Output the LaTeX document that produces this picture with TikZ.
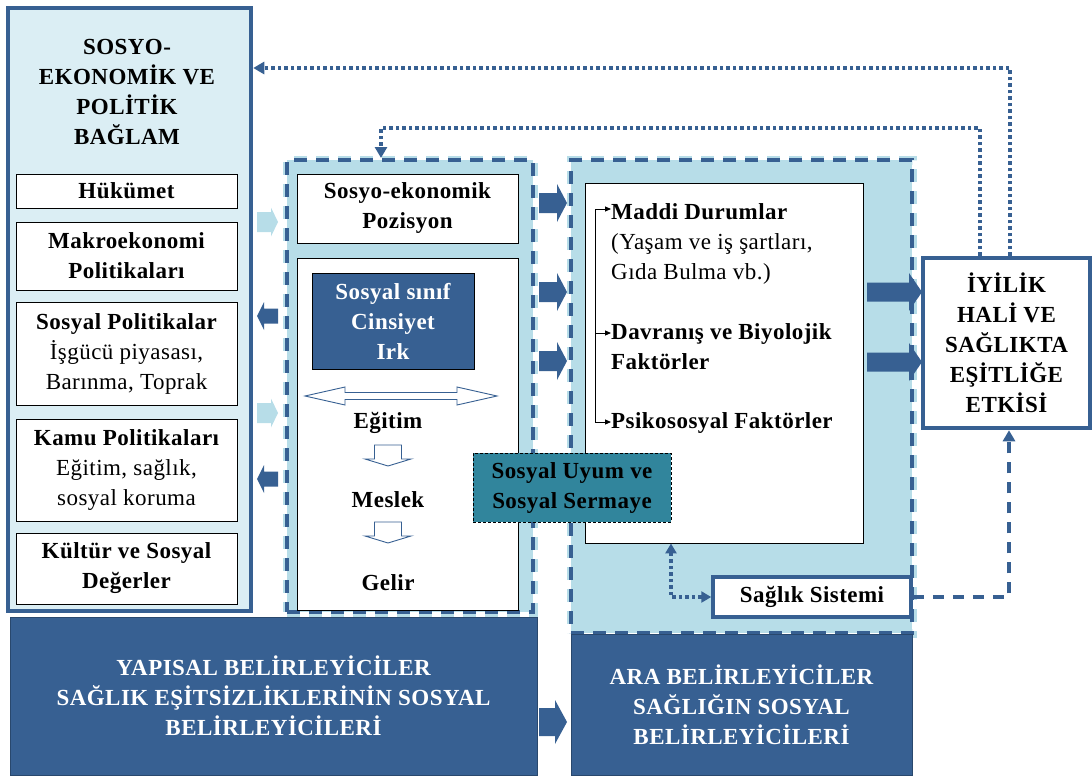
\documentclass[tikz,border=0pt]{standalone}
\usepackage{fontspec}
\setmainfont{Liberation Serif}[LetterSpace=2]
\usetikzlibrary{arrows.meta}
\definecolor{dkblue}{RGB}{55,96,146}
\definecolor{paleblue}{RGB}{219,238,244}
\definecolor{panelblue}{RGB}{183,221,232}
\definecolor{uyumteal}{RGB}{49,133,156}
\newcommand{\bodysize}{\fontsize{23}{30}\selectfont}
% horizontal block arrow: style, tail x, head-base x, tip x, y, shaft half-width, head half-width
\newcommand{\hblock}[7]{\fill[#1] (#2,#5-#6) -- (#3,#5-#6) -- (#3,#5-#7) -- (#4,#5) -- (#3,#5+#7) -- (#3,#5+#6) -- (#2,#5+#6) -- cycle;}
% hollow downward arrow: centre x, top y, head-base y, tip y
\newcommand{\vhollow}[4]{\draw[hollow] (#1-13.5,#2) -- (#1+13.5,#2) -- (#1+13.5,#3) -- (#1+23,#3) -- (#1,#4) -- (#1-23,#3) -- (#1-13.5,#3) -- cycle;}
\begin{document}
\begin{tikzpicture}[x=1pt,y=-1pt,
  txt/.style={font=\bodysize, align=center, inner sep=0},
  boldtxt/.style={font=\bodysize\bfseries},
  wbox/.style={draw=black, line width=0.9, fill=white, font=\bodysize, align=center, inner sep=2},
  panel/.style={preaction={draw=panelblue, fill=panelblue, line width=9}, draw=dkblue, line width=4, dash pattern=on 13pt off 9pt},
  darkbox/.style={fill=dkblue, draw=dkblue!75!black, line width=1, text=white, font=\bodysize\bfseries, align=center},
  fbline/.style={draw=dkblue, line width=3.5, dash pattern=on 3.5pt off 3pt},
  dashline/.style={draw=dkblue, line width=3.5, dash pattern=on 11pt off 9pt},
  headtip/.style={-{Triangle[length=11pt,width=12pt]}},
  bothtips/.style={{Triangle[length=10pt,width=11pt]}-{Triangle[length=10pt,width=11pt]}},
  bracketarrow/.style={draw=black, line width=0.9, -{Triangle[length=6pt,width=5pt]}},
  darkarrow/.style={fill=dkblue},
  lightarrow/.style={fill=panelblue},
  hollow/.style={draw=dkblue, line width=0.9, fill=white},
]
\useasboundingbox (0,0) rectangle (1092,776);

% socio-economic and political context
\node[draw=dkblue, line width=4.5, fill=paleblue, minimum width=243, minimum height=603] (ctx) at (129.5,309.5) {};
\node[txt, boldtxt] (ctxtitle) at (127,92) {SOSYO-\\EKONOMİK VE\\POLİTİK\\BAĞLAM};
\node[wbox, boldtxt, minimum width=221, minimum height=34] (gov) at (126.5,191) {Hükümet};
\node[wbox, boldtxt, minimum width=221, minimum height=68] (macro) at (126.5,256) {Makroekonomi\\Politikaları};
\node[wbox, minimum width=221, minimum height=103] (social) at (126.5,353.5) {{\bfseries Sosyal Politikalar}\\İşgücü piyasası,\\Barınma, Toprak};
\node[wbox, minimum width=221, minimum height=102] (public) at (126.5,470) {{\bfseries Kamu Politikaları}\\Eğitim, sağlık,\\sosyal koruma};
\node[wbox, boldtxt, minimum width=221, minimum height=71] (culture) at (126.5,568.5) {Kültür ve Sosyal\\Değerler};

% dashed panels
\node[panel, minimum width=246, minimum height=452] (mid) at (410,386) {};
\node[panel, minimum width=341, minimum height=473] (inter) at (741.5,396.5) {};

% socio-economic position
\node[wbox, boldtxt, minimum width=221, minimum height=69] (position) at (407.5,208.5) {Sosyo-ekonomik\\Pozisyon};
\node[wbox, minimum width=221, minimum height=352] (strat) at (407.5,434) {};
\node[darkbox, draw=black, minimum width=162, minimum height=96] (class) at (393,321) {Sosyal sınıf\\Cinsiyet\\Irk};
\node[txt, boldtxt] (edu) at (388,423) {Eğitim};
\node[txt, boldtxt] (job) at (388,500) {Meslek};
\node[txt, boldtxt] (income) at (388,583) {Gelir};
\draw[hollow] (305,396) -- (345,387) -- (345,392.5) -- (457,392.5) -- (457,387) -- (497,396) -- (457,405) -- (457,399.5) -- (345,399.5) -- (345,405) -- cycle;
\vhollow{388}{445}{459}{466}
\vhollow{388}{522}{536}{543}

% intermediary factors
\node[wbox, minimum width=278, minimum height=360] (factors) at (724,363) {};
\node[txt, anchor=west, align=left] (material) at (611,244) {{\bfseries Maddi Durumlar}\\(Yaşam ve iş şartları,\\Gıda Bulma vb.)};
\node[txt, boldtxt, anchor=west, align=left] (behav) at (611,347) {Davranış ve Biyolojik\\Faktörler};
\node[txt, boldtxt, anchor=west] (psycho) at (611,423) {Psikososyal Faktörler};
\coordinate (brtop) at (595,209);
\coordinate (brmid) at (595,333);
\coordinate (brbot) at (595,422);
\draw[line width=0.9] (brtop) -- (brbot);
\draw[bracketarrow] (brtop) -- (material.west |- brtop);
\draw[bracketarrow] (brmid) -- (behav.west |- brmid);
\draw[bracketarrow] (brbot) -- (psycho.west |- brbot);

\node[draw=black, dash pattern=on 3pt off 2pt, line width=1, fill=uyumteal, minimum width=198, minimum height=69, boldtxt, align=center] (cohesion) at (572,487.5) {Sosyal Uyum ve\\Sosyal Sermaye};
\node[draw=dkblue, line width=3.5, fill=white, minimum width=198, minimum height=40, boldtxt] (health) at (812,597) {Sağlık Sistemi};

% outcome
\node[draw=dkblue, line width=4.5, fill=white, minimum width=167, minimum height=170, boldtxt, align=center] (impact) at (1006.5,343) {İYİLİK\\HALİ VE\\SAĞLIKTA\\EŞİTLİĞE\\ETKİSİ};

% determinant bands
\node[darkbox, minimum width=527, minimum height=158] (structural) at (273.5,696) {YAPISAL BELİRLEYİCİLER\\SAĞLIK EŞİTSİZLİKLERİNİN SOSYAL\\BELİRLEYİCİLERİ};
\node[darkbox, minimum width=341, minimum height=141] (intermediary) at (741.5,704.5) {ARA BELİRLEYİCİLER\\SAĞLIĞIN SOSYAL\\BELİRLEYİCİLERİ};

% block arrows
\hblock{lightarrow}{257}{271}{278}{222}{10}{14.5}
\hblock{darkarrow}{278}{264}{257}{316}{7.5}{14}
\hblock{lightarrow}{257}{271}{278}{413}{10}{14.5}
\hblock{darkarrow}{278}{264}{257}{479}{7.5}{14}
\hblock{darkarrow}{539}{557}{567}{203}{10}{19}
\hblock{darkarrow}{539}{557}{567}{292}{10}{19}
\hblock{darkarrow}{539}{557}{567}{361}{10}{19}
\hblock{darkarrow}{867}{909}{922}{292}{9.5}{19}
\hblock{darkarrow}{867}{909}{922}{362}{9.5}{19}
\hblock{darkarrow}{539}{555}{567}{722}{14}{22}

% feedback and health-system connectors
\coordinate (fbo) at (1010,68);
\draw[fbline, headtip] (impact.north -| fbo) -- (fbo) -- (ctx.east |- fbo);
\coordinate (fbi) at (980,128);
\coordinate (fbil) at (381,128);
\draw[fbline, headtip] (impact.north -| fbi) -- (fbi) -- (fbil) -- (mid.north -| fbil);
\coordinate (hc) at (1009,597);
\draw[dashline, headtip] (health.east) -- (hc) -- (impact.south -| hc);
\coordinate (lc) at (671,597);
\draw[fbline, bothtips] (factors.south -| lc) -- (lc) -- (health.west);
\end{tikzpicture}
\end{document}
